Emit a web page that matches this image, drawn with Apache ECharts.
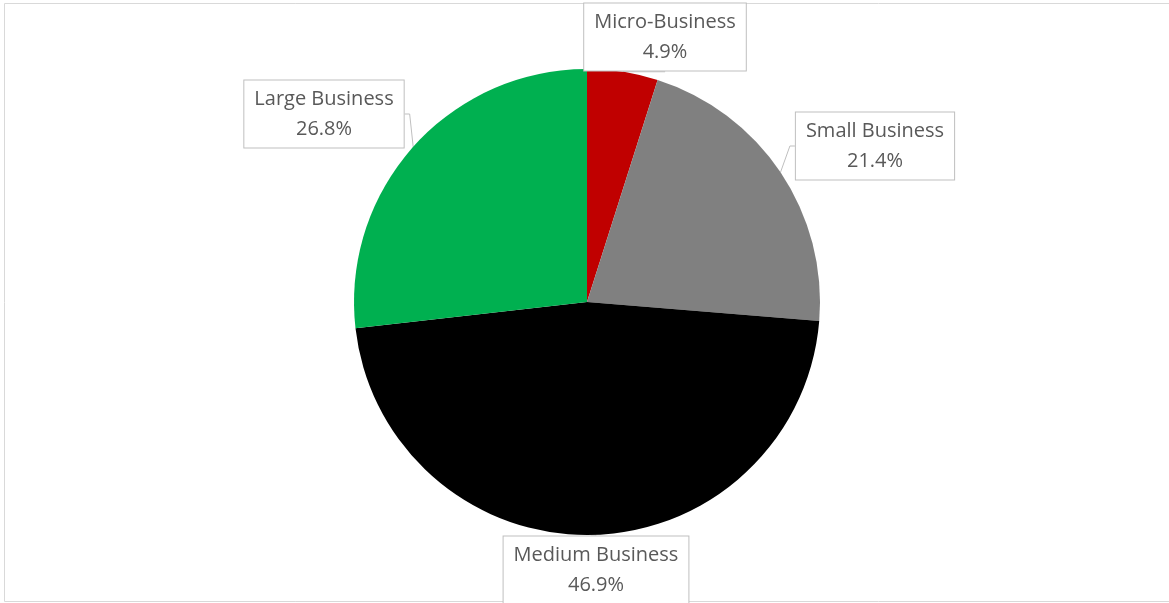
<!DOCTYPE html>
<html><head><meta charset="utf-8">
<style>html,body{margin:0;padding:0;background:#fff}#c{width:1169px;height:603px}</style>
<script src="https://cdn.jsdelivr.net/npm/echarts@6/dist/echarts.min.js"></script>
</head><body><div id="c"></div>
<script>
const categories = ['Micro-Business', 'Small Business', 'Medium Business', 'Large Business'];
const values = [4.9, 21.4, 46.9, 26.8];
const colors = ['#C00000', '#808080', '#000000', '#00B050'];
// label box centers (layout only)
const labelPos = [[665, 37], [875, 146], [596, 570], [324, 114]];

const chart = echarts.init(document.getElementById('c'));
chart.setOption({
  animation: false,
  graphic: [{type: 'rect', shape: {x: 4.5, y: 3.5, width: 1170, height: 598}, style: {fill: 'none', stroke: '#d9d9d9', lineWidth: 1}, silent: true}],
  series: [{
    type: 'pie',
    center: [587, 302],
    radius: 233,
    startAngle: 90,
    clockwise: true,
    data: categories.map((n, i) => ({name: n, value: values[i], itemStyle: {color: colors[i]}})),
    label: {
      show: true,
      formatter: p => p.name + '\n' + p.value.toFixed(1) + '%',
      fontFamily: 'Open Sans, Noto Sans, sans-serif',
      fontSize: 20,
      lineHeight: 30,
      color: '#595959',
      backgroundColor: '#fff',
      borderColor: '#bfbfbf',
      borderWidth: 1,
      padding: [4, 10, 3, 10],
      align: 'center'
    },
    labelLine: {show: true, length: 5, length2: 5, lineStyle: {color: '#bfbfbf', width: 1}},
    labelLayout: function (p) {
      const pos = labelPos[p.dataIndex];
      return {x: pos[0], y: pos[1], align: 'center', verticalAlign: 'middle'};
    }
  }]
});
</script></body></html>
